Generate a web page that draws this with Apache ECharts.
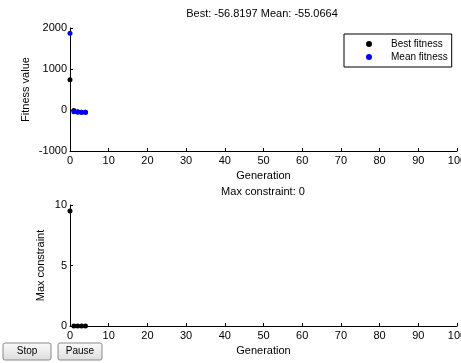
<!DOCTYPE html>
<html>
<head>
<meta charset="utf-8">
<script src="https://cdn.jsdelivr.net/npm/echarts@6/dist/echarts.min.js"></script>
<style>html,body{margin:0;padding:0;background:#fff;}#c{width:461px;height:363px;}</style>
</head>
<body>
<div id="c"></div>
<script>
var generations = [0, 1, 2, 3, 4];
var bestFitness = [740, -10, -45, -55, -56.8197];
var meanFitness = [1870, -40, -55, -55, -55.0664];
var maxConstraint = [9.5, 0, 0, 0, 0];
var xTicks = [0, 100, 10];
var topTitle = 'Best: -56.8197 Mean: -55.0664';
var bottomTitle = 'Max constraint: 0';

function pairs(xs, ys) { return xs.map(function (x, i) { return [x, ys[i]]; }); }

var FONT = 'Liberation Sans, Arial, sans-serif';
var chart = echarts.init(document.getElementById('c'), null, {renderer: 'canvas'});

function xAxisCfg(gi) {
  return {
    gridIndex: gi, type: 'value', min: xTicks[0], max: xTicks[1], interval: xTicks[2],
    name: 'Generation', nameLocation: 'middle', nameGap: 19, nameMoveOverlap: false,
    nameTextStyle: {color: '#000', fontSize: 11, fontFamily: FONT},
    axisLine: {show: true, onZero: false, lineStyle: {color: '#000', width: 1}},
    axisTick: {show: true, inside: true, length: 3, lineStyle: {color: '#000'}},
    axisLabel: {color: '#000', fontSize: 11, fontFamily: FONT, margin: 4, formatter: function (v) { return String(v); }},
    splitLine: {show: false}
  };
}
function yAxisCfg(gi, min, max, interval, name, gap) {
  return {
    gridIndex: gi, type: 'value', min: min, max: max, interval: interval,
    name: name, nameLocation: 'middle', nameGap: gap, nameMoveOverlap: false,
    nameTextStyle: {color: '#000', fontSize: 11, fontFamily: FONT},
    axisLine: {show: true, onZero: false, lineStyle: {color: '#000', width: 1}},
    axisTick: {show: true, inside: true, length: 3, lineStyle: {color: '#000'}},
    axisLabel: {color: '#000', fontSize: 11, fontFamily: FONT, margin: 3, formatter: function (v) { return String(v); }},
    splitLine: {show: false}
  };
}

function button(x, y, w, h, label) {
  return {
    type: 'group', x: x, y: y,
    children: [
      {type: 'rect', shape: {x: 0, y: 0, width: w, height: h, r: 2},
        style: {fill: new echarts.graphic.LinearGradient(0, 0, 0, 1, [{offset: 0, color: '#fbfbfb'}, {offset: 1, color: '#dcdcdc'}]), stroke: '#8a8a8a', lineWidth: 1}},
      {type: 'text', style: {x: w / 2, y: h / 2, text: label, fill: '#000', font: '10px ' + FONT, align: 'center', verticalAlign: 'middle'}}
    ]
  };
}

chart.setOption({
  animation: false,
  backgroundColor: '#fff',
  grid: [
    {left: 70, top: 28, width: 387, height: 123, containLabel: false, outerBoundsMode: 'none'},
    {left: 70, top: 205, width: 387, height: 121, containLabel: false, outerBoundsMode: 'none'}
  ],
  xAxis: [xAxisCfg(0), xAxisCfg(1)],
  yAxis: [
    yAxisCfg(0, -1000, 2000, 1000, 'Fitness value', 39),
    yAxisCfg(1, 0, 10, 5, 'Max constraint', 24)
  ],
  legend: {
    left: 344, top: 34, orient: 'vertical',
    data: [{name: 'Best fitness', icon: 'circle'}, {name: 'Mean fitness', icon: 'circle'}],
    itemWidth: 6, itemHeight: 6, itemGap: 3,
    padding: [5, 4, 5, 22],
    borderColor: '#000', borderWidth: 1, backgroundColor: '#fff',
    textStyle: {color: '#000', fontSize: 10, fontFamily: FONT, padding: [0, 0, 0, 14]},
    selectedMode: false
  },
  graphic: [
    {type: 'text', style: {x: 262, y: 14, text: topTitle, fill: '#000', font: '11px ' + FONT, align: 'center', verticalAlign: 'middle'}},
    {type: 'text', style: {x: 263, y: 192, text: bottomTitle, fill: '#000', font: '11px ' + FONT, align: 'center', verticalAlign: 'middle'}},
    button(3, 343, 48, 17, 'Stop'),
    button(58, 343, 44, 17, 'Pause')
  ],
  series: [
    {name: 'Best fitness', type: 'scatter', xAxisIndex: 0, yAxisIndex: 0, data: pairs(generations, bestFitness),
      symbol: 'circle', symbolSize: 5, itemStyle: {color: '#000', opacity: 1}, z: 3},
    {name: 'Mean fitness', type: 'scatter', xAxisIndex: 0, yAxisIndex: 0, data: pairs(generations, meanFitness),
      symbol: 'circle', symbolSize: 5, itemStyle: {color: '#0000ff', opacity: 1}, z: 4},
    {name: 'Max constraint', type: 'scatter', xAxisIndex: 1, yAxisIndex: 1, data: pairs(generations, maxConstraint),
      symbol: 'circle', symbolSize: 5, itemStyle: {color: '#000', opacity: 1}}
  ]
});
</script>
</body>
</html>
